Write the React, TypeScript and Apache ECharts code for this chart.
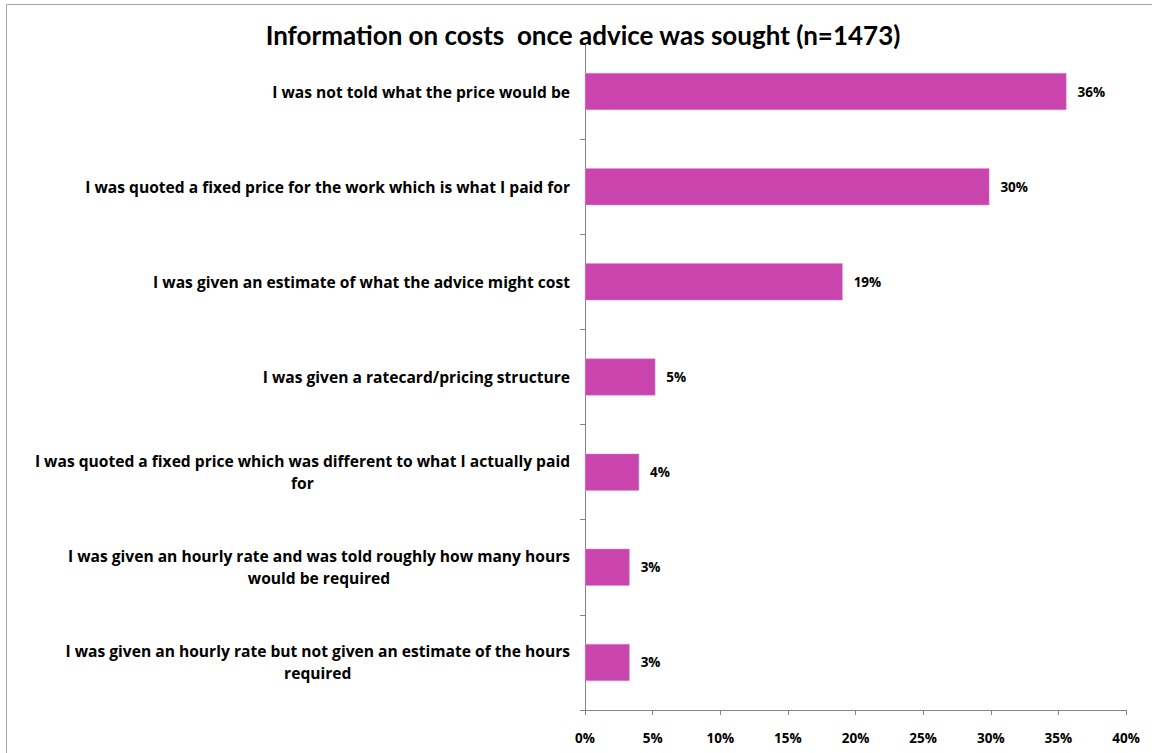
import React, { useEffect, useRef } from "react";
import * as echarts from "echarts";

const TITLE = "Information on costs  once advice was sought (n=1473)";

const categories: string[] = [
  "I was not told what the price would be",
  "I was quoted a fixed price for the work which is what I paid for",
  "I was given an estimate of what the advice might cost",
  "I was given a ratecard/pricing structure",
  "I was quoted a fixed price which was different to what I actually paid\nfor",
  "I was given an hourly rate and was told roughly how many hours\nwould be required",
  "I was given an hourly rate but not given an estimate of the hours\nrequired",
];

const values: number[] = [35.6, 29.9, 19.05, 5.2, 4.0, 3.3, 3.3];

const axisMin = 0;
const axisMax = 40;
const axisInterval = 5;

const BAR_COLOR = "#C944AC";
const FONT = "'Open Sans', Lato, sans-serif";
const TITLE_FONT = "Lato, 'Open Sans', sans-serif";

export default function App() {
  const ref = useRef<HTMLDivElement>(null);

  useEffect(() => {
    document.body.style.margin = "0";
    if (!ref.current) return;
    const chart = echarts.init(ref.current, undefined, { renderer: "svg" });
    chart.setOption({
      animation: false,
      backgroundColor: "#ffffff",
      textStyle: { fontFamily: FONT },
      title: {
        text: TITLE,
        left: 578,
        textAlign: "center",
        top: 17,
        textStyle: {
          fontFamily: TITLE_FONT,
          fontSize: 26,
          fontWeight: "bold",
          color: "#000000",
        },
      },
      graphic: [
        {
          type: "rect",
          shape: { x: 6.5, y: 4.5, width: 1300, height: 900 },
          style: { fill: "none", stroke: "#a6a6a6", lineWidth: 1 },
          silent: true,
          z: -10,
        },
      ],
      grid: { left: 585, right: 26, top: 44, bottom: 43, containLabel: false },
      xAxis: {
        type: "value",
        min: axisMin,
        max: axisMax,
        interval: axisInterval,
        splitLine: { show: false },
        axisLine: { show: true, lineStyle: { color: "#868686", width: 1 } },
        axisTick: { show: true, length: 5, lineStyle: { color: "#868686" } },
        axisLabel: {
          formatter: "{value}%",
          fontFamily: FONT,
          fontSize: 13.5,
          fontWeight: "bold",
          color: "#000000",
          margin: 21,
        },
      },
      yAxis: {
        type: "category",
        inverse: true,
        data: categories,
        axisLine: { show: true, lineStyle: { color: "#868686", width: 1 } },
        axisTick: {
          show: true,
          length: 5,
          alignWithLabel: false,
          lineStyle: { color: "#868686" },
        },
        splitLine: { show: false },
        axisLabel: {
          margin: 15,
          fontFamily: FONT,
          fontSize: 15.6,
          fontWeight: "bold",
          color: "#000000",
          lineHeight: 22,
          formatter: (v: string) =>
            v
              .split("\n")
              .map((l) => `{c|${l}}`)
              .join("\n"),
          rich: {
            c: {
              align: "center",
              fontFamily: FONT,
              fontSize: 15.6,
              fontWeight: "bold",
              color: "#000000",
              lineHeight: 22,
            },
          },
        },
      },
      series: [
        {
          type: "bar",
          data: values,
          barWidth: 37,
          itemStyle: {
            color: BAR_COLOR,
            borderColor: "#e58fd6",
            borderWidth: 0.5,
          },
          label: {
            show: true,
            position: "right",
            distance: 11,
            formatter: (p: any) => `${Math.round(p.value)}%`,
            fontFamily: FONT,
            fontSize: 13.5,
            fontWeight: "bold",
            color: "#000000",
          },
        },
      ],
    });
    return () => chart.dispose();
  }, []);

  return <div ref={ref} style={{ width: 1152, height: 753 }} />;
}
